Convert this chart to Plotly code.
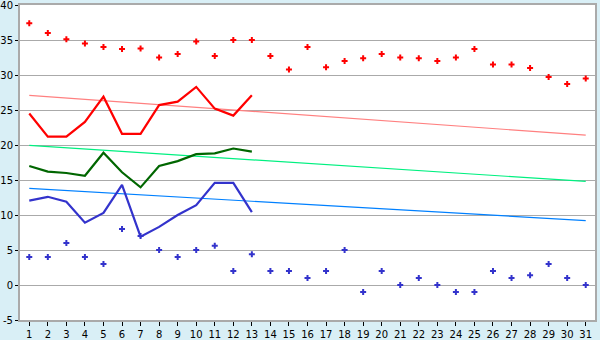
import plotly.graph_objects as go

days = list(range(1, 32))
line_days = list(range(1, 14))

red_points = [37.4, 36.0, 35.1, 34.5, 34.0, 33.7, 33.8, 32.5, 33.0, 34.8,
              32.7, 35.0, 35.0, 32.7, 30.8, 34.0, 31.1, 32.0, 32.4, 33.0,
              32.5, 32.4, 32.0, 32.5, 33.7, 31.5, 31.5, 31.0, 29.7, 28.7, 29.5]
blue_points = [4, 4, 6, 4, 3, 8, 7, 5, 4, 5,
               5.6, 2, 4.4, 2, 2, 1, 2, 5, -1, 2,
               0, 1, 0, -1, -1, 2, 1, 1.4, 3, 1, 0]

red_line = [24.5, 21.2, 21.2, 23.3, 26.9, 21.6, 21.6, 25.7, 26.2, 28.3, 25.2, 24.2, 27.1]
green_line = [17.0, 16.2, 16.0, 15.6, 18.9, 16.1, 13.95, 17.0, 17.7, 18.7, 18.8, 19.5, 19.05]
blue_line = [12.05, 12.6, 11.9, 8.9, 10.3, 14.3, 6.9, 8.3, 10.0, 11.4, 14.6, 14.6, 10.4]

trend_days = [1, 31]
red_trend = [27.1, 21.4]
green_trend = [19.95, 14.8]
blue_trend = [13.8, 9.2]

y_ticks = [-5, 0, 5, 10, 15, 20, 25, 30, 35, 40]
y_labels = ["-5", "0", "5", "10", "15", "20", "25", "30", "35", "40"]

fig = go.Figure()

fig.add_trace(go.Scatter(x=trend_days, y=red_trend, mode="lines",
                         line=dict(color="#ff8080", width=1.2)))
fig.add_trace(go.Scatter(x=trend_days, y=green_trend, mode="lines",
                         line=dict(color="#00f080", width=1.2)))
fig.add_trace(go.Scatter(x=trend_days, y=blue_trend, mode="lines",
                         line=dict(color="#0080ff", width=1.2)))

fig.add_trace(go.Scatter(x=line_days, y=red_line, mode="lines",
                         line=dict(color="#ff0000", width=2.2)))
fig.add_trace(go.Scatter(x=line_days, y=green_line, mode="lines",
                         line=dict(color="#006600", width=2.2)))
fig.add_trace(go.Scatter(x=line_days, y=blue_line, mode="lines",
                         line=dict(color="#3333cc", width=2.2)))

fig.add_trace(go.Scatter(x=days, y=red_points, mode="markers",
                         marker=dict(symbol="cross", size=5, color="#ff0000",
                                     line=dict(width=0))))
fig.add_trace(go.Scatter(x=days, y=blue_points, mode="markers",
                         marker=dict(symbol="cross", size=5, color="#3333cc",
                                     line=dict(width=0))))

fig.update_layout(
    width=600, height=340,
    margin=dict(l=20, r=5, t=5, b=20, autoexpand=False),
    paper_bgcolor="#d9eff6",
    plot_bgcolor="#ffffff",
    showlegend=False,
    font=dict(family="DejaVu Sans", size=10, color="#000000"),
    xaxis=dict(range=[0.5, 31.5], tickmode="array", tickvals=days,
               ticktext=[str(d) for d in days], automargin=False,
               showgrid=False, zeroline=False,
               showline=True, mirror=True, linecolor="#aaaaaa", linewidth=2,
               ticks="outside", ticklen=4, tickcolor="#000000", tickwidth=1,
               ticklabelstandoff=0, ticklabeloverflow="allow",
               tickfont=dict(size=10)),
    yaxis=dict(range=[-5, 40], tickmode="array", tickvals=y_ticks,
               ticktext=y_labels, automargin=False,
               showgrid=True, gridcolor="#aaaaaa", gridwidth=1, zeroline=False,
               showline=True, mirror=True, linecolor="#aaaaaa", linewidth=2,
               ticks="outside", ticklen=3, tickcolor="#000000", tickwidth=1,
               ticklabelstandoff=0, ticklabeloverflow="allow",
               tickfont=dict(size=10)),
)

fig.write_html("out.html")
